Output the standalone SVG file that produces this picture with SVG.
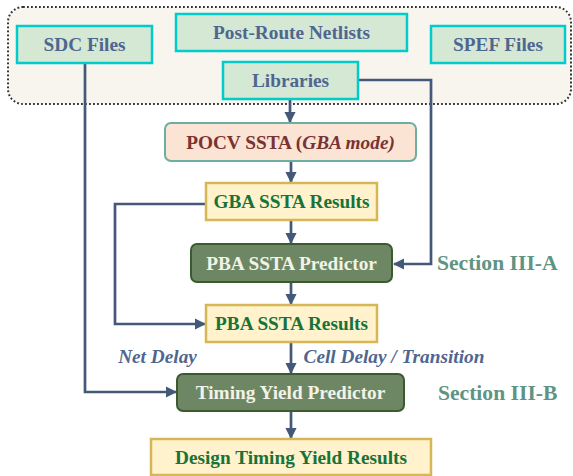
<svg xmlns="http://www.w3.org/2000/svg" width="573" height="476" viewBox="0 0 573 476">
<style>
text{font-family:"Liberation Serif","Times New Roman",serif;font-weight:bold;text-anchor:middle}
.in{fill:#D5E8D4;stroke:#00CCCC;stroke-width:2.5}
.in-t{fill:#4F6690;font-size:19.3px}
.res{fill:#FFF2CC;stroke:#D6B656;stroke-width:2.5}
.res-t{fill:#17733A;font-size:19.3px}
.pred{fill:#6D8764;stroke:#3B5A30;stroke-width:2}
.pred-t{fill:#F2F2E6;font-size:19.3px}
.sec{fill:#5E9484;font-size:21.6px;text-anchor:start}
.lbl{fill:#4F6690;font-size:19.3px;font-style:italic}
.edge{fill:none;stroke:#44587A;stroke-width:2.7}
</style>
<defs>
<marker id="ah" viewBox="0 0 10 10" refX="9" refY="5" markerWidth="4.2" markerHeight="4.2" orient="auto" markerUnits="strokeWidth">
<path d="M0,0 L10,5 L0,10 z" fill="#44587A"/>
</marker>
</defs>
<rect x="8" y="7" width="563" height="97" rx="15" fill="#F8F5EE" stroke="#333" stroke-width="2" stroke-dasharray="1.8,2.2"/>
<g id="connectors">
<path class="edge" d="M290,99 L290,122" marker-end="url(#ah)"/>
<path class="edge" d="M291,161 L291,182" marker-end="url(#ah)"/>
<path class="edge" d="M291,220 L291,243" marker-end="url(#ah)"/>
<path class="edge" d="M291,282 L291,304" marker-end="url(#ah)"/>
<path class="edge" d="M291,342 L291,373" marker-end="url(#ah)"/>
<path class="edge" d="M291,411 L291,438" marker-end="url(#ah)"/>
<path class="edge" d="M358,80 L431,80 L431,264 L394,264" marker-end="url(#ah)"/>
<path class="edge" d="M206,204 L115,204 L115,324 L205,324" marker-end="url(#ah)"/>
<path class="edge" d="M85,63 L85,392 L176,392" marker-end="url(#ah)"/>
</g>
<g id="sdc"><rect class="in" x="17" y="26" width="135" height="37"/><text class="in-t" x="84.5" y="51">SDC Files</text></g>
<g id="netlists"><rect class="in" x="176" y="14" width="231" height="37"/><text class="in-t" x="291.5" y="39">Post-Route Netlists</text></g>
<g id="libraries"><rect class="in" x="223" y="62" width="135" height="37"/><text class="in-t" x="290.5" y="87">Libraries</text></g>
<g id="spef"><rect class="in" x="431" y="26" width="134" height="37"/><text class="in-t" x="498" y="51">SPEF Files</text></g>
<g id="pocv"><rect x="165" y="123" width="251" height="38" rx="6" fill="#FCE4D4" stroke="#6AAFA0" stroke-width="2"/><text x="290.5" y="148.5" font-size="19.3" fill="#7A3232">POCV SSTA (<tspan font-style="italic">GBA mode)</tspan></text></g>
<g id="gba"><rect class="res" x="206" y="183" width="171" height="37"/><text class="res-t" x="291.5" y="208">GBA SSTA Results</text></g>
<g id="pba-pred"><rect class="pred" x="191" y="244" width="201" height="38" rx="6"/><text class="pred-t" x="291.5" y="269.5">PBA SSTA Predictor</text></g>
<text class="sec" x="437" y="270">Section III-A</text>
<g id="pba-res"><rect class="res" x="206" y="305" width="171" height="37"/><text class="res-t" x="291.5" y="330">PBA SSTA Results</text></g>
<text class="lbl" x="157.5" y="363">Net Delay</text>
<text class="lbl" x="394" y="363">Cell Delay / Transition</text>
<g id="tyield"><rect class="pred" x="177" y="374" width="227" height="37" rx="6"/><text class="pred-t" x="290.5" y="399">Timing Yield Predictor</text></g>
<text class="sec" x="438" y="400">Section III-B</text>
<g id="design"><rect class="res" x="151" y="439" width="280" height="36"/><text class="res-t" x="291" y="464">Design Timing Yield Results</text></g>
</svg>
